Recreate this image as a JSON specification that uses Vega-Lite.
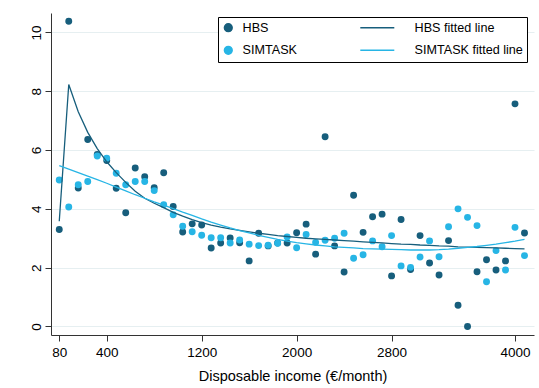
{
  "$schema": "https://vega.github.io/schema/vega-lite/v6.json",
  "width": 483,
  "height": 322,
  "autosize": "none",
  "padding": {"left": 51, "top": 13, "right": 5, "bottom": 53},
  "background": "white",
  "config": {"view": {"stroke": null}, "font": "Liberation Sans"},
  "data": {"values": [
    {"i":0,"v":3.30,"s":"HBS"},{"i":1,"v":10.38,"s":"HBS"},{"i":2,"v":4.71,"s":"HBS"},{"i":3,"v":6.36,"s":"HBS"},{"i":4,"v":5.85,"s":"HBS"},
    {"i":5,"v":5.64,"s":"HBS"},{"i":6,"v":4.70,"s":"HBS"},{"i":7,"v":3.87,"s":"HBS"},{"i":8,"v":5.39,"s":"HBS"},{"i":9,"v":5.09,"s":"HBS"},
    {"i":10,"v":4.72,"s":"HBS"},{"i":11,"v":5.23,"s":"HBS"},{"i":12,"v":4.08,"s":"HBS"},{"i":13,"v":3.21,"s":"HBS"},{"i":14,"v":3.49,"s":"HBS"},
    {"i":15,"v":3.45,"s":"HBS"},{"i":16,"v":2.67,"s":"HBS"},{"i":17,"v":2.84,"s":"HBS"},{"i":18,"v":3.01,"s":"HBS"},{"i":19,"v":2.85,"s":"HBS"},
    {"i":20,"v":2.23,"s":"HBS"},{"i":21,"v":3.17,"s":"HBS"},{"i":22,"v":2.74,"s":"HBS"},{"i":23,"v":2.84,"s":"HBS"},{"i":24,"v":2.84,"s":"HBS"},
    {"i":25,"v":3.19,"s":"HBS"},{"i":26,"v":3.48,"s":"HBS"},{"i":27,"v":2.46,"s":"HBS"},{"i":28,"v":6.45,"s":"HBS"},{"i":29,"v":2.74,"s":"HBS"},
    {"i":30,"v":1.85,"s":"HBS"},{"i":31,"v":4.46,"s":"HBS"},{"i":32,"v":3.20,"s":"HBS"},{"i":33,"v":3.73,"s":"HBS"},{"i":34,"v":3.82,"s":"HBS"},
    {"i":35,"v":1.72,"s":"HBS"},{"i":36,"v":3.64,"s":"HBS"},{"i":37,"v":1.94,"s":"HBS"},{"i":38,"v":3.09,"s":"HBS"},{"i":39,"v":2.16,"s":"HBS"},
    {"i":40,"v":1.75,"s":"HBS"},{"i":41,"v":2.92,"s":"HBS"},{"i":42,"v":0.72,"s":"HBS"},{"i":43,"v":0.00,"s":"HBS"},{"i":44,"v":1.86,"s":"HBS"},
    {"i":45,"v":2.27,"s":"HBS"},{"i":46,"v":1.92,"s":"HBS"},{"i":47,"v":2.23,"s":"HBS"},{"i":48,"v":7.57,"s":"HBS"},{"i":49,"v":3.18,"s":"HBS"},
    {"i":0,"v":4.98,"s":"SIMTASK"},{"i":1,"v":4.06,"s":"SIMTASK"},{"i":2,"v":4.82,"s":"SIMTASK"},{"i":3,"v":4.93,"s":"SIMTASK"},{"i":4,"v":5.80,"s":"SIMTASK"},
    {"i":5,"v":5.72,"s":"SIMTASK"},{"i":6,"v":5.21,"s":"SIMTASK"},{"i":7,"v":4.82,"s":"SIMTASK"},{"i":8,"v":4.93,"s":"SIMTASK"},{"i":9,"v":4.93,"s":"SIMTASK"},
    {"i":10,"v":4.62,"s":"SIMTASK"},{"i":11,"v":4.14,"s":"SIMTASK"},{"i":12,"v":3.80,"s":"SIMTASK"},{"i":13,"v":3.41,"s":"SIMTASK"},{"i":14,"v":3.22,"s":"SIMTASK"},
    {"i":15,"v":3.10,"s":"SIMTASK"},{"i":16,"v":3.02,"s":"SIMTASK"},{"i":17,"v":3.02,"s":"SIMTASK"},{"i":18,"v":2.84,"s":"SIMTASK"},{"i":19,"v":2.94,"s":"SIMTASK"},
    {"i":20,"v":2.80,"s":"SIMTASK"},{"i":21,"v":2.75,"s":"SIMTASK"},{"i":22,"v":2.76,"s":"SIMTASK"},{"i":23,"v":2.83,"s":"SIMTASK"},{"i":24,"v":3.04,"s":"SIMTASK"},
    {"i":25,"v":2.68,"s":"SIMTASK"},{"i":26,"v":3.13,"s":"SIMTASK"},{"i":27,"v":2.86,"s":"SIMTASK"},{"i":28,"v":2.93,"s":"SIMTASK"},{"i":29,"v":3.00,"s":"SIMTASK"},
    {"i":30,"v":3.17,"s":"SIMTASK"},{"i":31,"v":2.32,"s":"SIMTASK"},{"i":32,"v":2.44,"s":"SIMTASK"},{"i":33,"v":2.91,"s":"SIMTASK"},{"i":34,"v":2.71,"s":"SIMTASK"},
    {"i":35,"v":3.09,"s":"SIMTASK"},{"i":36,"v":2.06,"s":"SIMTASK"},{"i":37,"v":2.01,"s":"SIMTASK"},{"i":38,"v":2.36,"s":"SIMTASK"},{"i":39,"v":2.91,"s":"SIMTASK"},
    {"i":40,"v":2.37,"s":"SIMTASK"},{"i":41,"v":3.39,"s":"SIMTASK"},{"i":42,"v":4.00,"s":"SIMTASK"},{"i":43,"v":3.71,"s":"SIMTASK"},{"i":44,"v":3.43,"s":"SIMTASK"},
    {"i":45,"v":1.52,"s":"SIMTASK"},{"i":46,"v":2.58,"s":"SIMTASK"},{"i":47,"v":1.92,"s":"SIMTASK"},{"i":48,"v":3.37,"s":"SIMTASK"},{"i":49,"v":2.41,"s":"SIMTASK"},
    {"i":0,"v":3.58,"s":"HBS fitted line"},{"i":1,"v":8.23,"s":"HBS fitted line"},{"i":2,"v":7.30,"s":"HBS fitted line"},{"i":3,"v":6.60,"s":"HBS fitted line"},{"i":4,"v":6.05,"s":"HBS fitted line"},
    {"i":5,"v":5.60,"s":"HBS fitted line"},{"i":6,"v":5.23,"s":"HBS fitted line"},{"i":7,"v":4.90,"s":"HBS fitted line"},{"i":8,"v":4.60,"s":"HBS fitted line"},{"i":9,"v":4.36,"s":"HBS fitted line"},
    {"i":10,"v":4.19,"s":"HBS fitted line"},{"i":11,"v":4.04,"s":"HBS fitted line"},{"i":12,"v":3.88,"s":"HBS fitted line"},{"i":13,"v":3.75,"s":"HBS fitted line"},{"i":14,"v":3.63,"s":"HBS fitted line"},
    {"i":15,"v":3.53,"s":"HBS fitted line"},{"i":16,"v":3.45,"s":"HBS fitted line"},{"i":17,"v":3.38,"s":"HBS fitted line"},{"i":18,"v":3.32,"s":"HBS fitted line"},{"i":19,"v":3.27,"s":"HBS fitted line"},
    {"i":20,"v":3.22,"s":"HBS fitted line"},{"i":21,"v":3.17,"s":"HBS fitted line"},{"i":22,"v":3.13,"s":"HBS fitted line"},{"i":23,"v":3.09,"s":"HBS fitted line"},{"i":24,"v":3.06,"s":"HBS fitted line"},
    {"i":25,"v":3.03,"s":"HBS fitted line"},{"i":26,"v":3.00,"s":"HBS fitted line"},{"i":27,"v":2.98,"s":"HBS fitted line"},{"i":28,"v":2.96,"s":"HBS fitted line"},{"i":29,"v":2.94,"s":"HBS fitted line"},
    {"i":30,"v":2.92,"s":"HBS fitted line"},{"i":31,"v":2.90,"s":"HBS fitted line"},{"i":32,"v":2.88,"s":"HBS fitted line"},{"i":33,"v":2.86,"s":"HBS fitted line"},{"i":34,"v":2.84,"s":"HBS fitted line"},
    {"i":35,"v":2.82,"s":"HBS fitted line"},{"i":36,"v":2.80,"s":"HBS fitted line"},{"i":37,"v":2.79,"s":"HBS fitted line"},{"i":38,"v":2.77,"s":"HBS fitted line"},{"i":39,"v":2.76,"s":"HBS fitted line"},
    {"i":40,"v":2.74,"s":"HBS fitted line"},{"i":41,"v":2.73,"s":"HBS fitted line"},{"i":42,"v":2.71,"s":"HBS fitted line"},{"i":43,"v":2.70,"s":"HBS fitted line"},{"i":44,"v":2.69,"s":"HBS fitted line"},
    {"i":45,"v":2.68,"s":"HBS fitted line"},{"i":46,"v":2.67,"s":"HBS fitted line"},{"i":47,"v":2.66,"s":"HBS fitted line"},{"i":48,"v":2.65,"s":"HBS fitted line"},{"i":49,"v":2.64,"s":"HBS fitted line"},
    {"i":0,"v":5.47,"s":"SIMTASK fitted line"},{"i":1,"v":5.35,"s":"SIMTASK fitted line"},{"i":2,"v":5.23,"s":"SIMTASK fitted line"},{"i":3,"v":5.11,"s":"SIMTASK fitted line"},{"i":4,"v":4.99,"s":"SIMTASK fitted line"},
    {"i":5,"v":4.87,"s":"SIMTASK fitted line"},{"i":6,"v":4.74,"s":"SIMTASK fitted line"},{"i":7,"v":4.61,"s":"SIMTASK fitted line"},{"i":8,"v":4.48,"s":"SIMTASK fitted line"},{"i":9,"v":4.36,"s":"SIMTASK fitted line"},
    {"i":10,"v":4.24,"s":"SIMTASK fitted line"},{"i":11,"v":4.13,"s":"SIMTASK fitted line"},{"i":12,"v":4.01,"s":"SIMTASK fitted line"},{"i":13,"v":3.89,"s":"SIMTASK fitted line"},{"i":14,"v":3.78,"s":"SIMTASK fitted line"},
    {"i":15,"v":3.66,"s":"SIMTASK fitted line"},{"i":16,"v":3.55,"s":"SIMTASK fitted line"},{"i":17,"v":3.45,"s":"SIMTASK fitted line"},{"i":18,"v":3.35,"s":"SIMTASK fitted line"},{"i":19,"v":3.26,"s":"SIMTASK fitted line"},
    {"i":20,"v":3.18,"s":"SIMTASK fitted line"},{"i":21,"v":3.10,"s":"SIMTASK fitted line"},{"i":22,"v":3.03,"s":"SIMTASK fitted line"},{"i":23,"v":2.96,"s":"SIMTASK fitted line"},{"i":24,"v":2.90,"s":"SIMTASK fitted line"},
    {"i":25,"v":2.85,"s":"SIMTASK fitted line"},{"i":26,"v":2.81,"s":"SIMTASK fitted line"},{"i":27,"v":2.77,"s":"SIMTASK fitted line"},{"i":28,"v":2.74,"s":"SIMTASK fitted line"},{"i":29,"v":2.71,"s":"SIMTASK fitted line"},
    {"i":30,"v":2.69,"s":"SIMTASK fitted line"},{"i":31,"v":2.67,"s":"SIMTASK fitted line"},{"i":32,"v":2.65,"s":"SIMTASK fitted line"},{"i":33,"v":2.64,"s":"SIMTASK fitted line"},{"i":34,"v":2.63,"s":"SIMTASK fitted line"},
    {"i":35,"v":2.62,"s":"SIMTASK fitted line"},{"i":36,"v":2.61,"s":"SIMTASK fitted line"},{"i":37,"v":2.60,"s":"SIMTASK fitted line"},{"i":38,"v":2.60,"s":"SIMTASK fitted line"},{"i":39,"v":2.60,"s":"SIMTASK fitted line"},
    {"i":40,"v":2.61,"s":"SIMTASK fitted line"},{"i":41,"v":2.63,"s":"SIMTASK fitted line"},{"i":42,"v":2.66,"s":"SIMTASK fitted line"},{"i":43,"v":2.69,"s":"SIMTASK fitted line"},{"i":44,"v":2.72,"s":"SIMTASK fitted line"},
    {"i":45,"v":2.76,"s":"SIMTASK fitted line"},{"i":46,"v":2.80,"s":"SIMTASK fitted line"},{"i":47,"v":2.85,"s":"SIMTASK fitted line"},{"i":48,"v":2.90,"s":"SIMTASK fitted line"},{"i":49,"v":2.96,"s":"SIMTASK fitted line"}
  ]},
  "encoding": {
    "x": {"field": "i", "type": "quantitative",
      "scale": {"domain": [-0.87, 50], "nice": false, "zero": false},
      "axis": {"values": [0, 5, 15, 25, 35, 48],
        "labelExpr": "datum.value==0?'80':datum.value==5?'400':datum.value==15?'1200':datum.value==25?'2000':datum.value==35?'2800':'4000'",
        "title": "Disposable income (€/month)", "titleFontSize": 14.5, "titleFontWeight": "normal", "titleColor": "#000", "titlePadding": 11,
        "labelFontSize": 13.5, "labelColor": "#000", "labelPadding": 4, "tickSize": 6, "tickColor": "#333", "domainColor": "#333",
        "grid": false, "labelFlush": false}},
    "y": {"field": "v", "type": "quantitative",
      "scale": {"domain": [-0.29, 10.66], "nice": false, "zero": false},
      "axis": {"values": [0, 2, 4, 6, 8, 10], "title": null, "labelAngle": 270, "labelAlign": "center", "labelBaseline": "bottom",
        "labelFontSize": 13.5, "labelColor": "#000", "labelPadding": 2, "tickSize": 6, "tickColor": "#333", "domainColor": "#333",
        "grid": true, "gridColor": "#e6eff1", "gridWidth": 1.2}},
    "color": {"field": "s", "type": "nominal",
      "scale": {"domain": ["HBS", "HBS fitted line", "SIMTASK", "SIMTASK fitted line"], "range": ["#175e7c", "#175e7c", "#27b5e5", "#27b5e5"]},
      "legend": {"title": null, "orient": "none", "legendX": 167, "legendY": 4, "columns": 2, "direction": "horizontal",
        "strokeColor": "#000", "fillColor": "#fff", "padding": 4, "columnPadding": 60, "rowPadding": 8, "labelOffset": 8,
        "labelFontSize": 12.6, "labelColor": "#000", "labelLimit": 300,
        "encode": {
          "symbols": {"update": {
            "shape": {"signal": "test(/fitted/, datum.value) ? 'stroke' : 'circle'"},
            "size": {"signal": "test(/fitted/, datum.value) ? 1156 : 60"},
            "dx": {"signal": "test(/fitted/, datum.value) ? 13 : 0"},
            "fill": {"signal": "test(/fitted/, datum.value) ? 'transparent' : scale('color', datum.value)"},
            "stroke": {"signal": "test(/fitted/, datum.value) ? scale('color', datum.value) : 'transparent'"},
            "strokeWidth": {"value": 1.5},
            "opacity": {"value": 1}}},
          "labels": {"update": {
            "dx": {"signal": "test(/fitted/, datum.value) ? 23 : 0"}}}}}}
  },
  "layer": [
    {"transform": [{"filter": "indexof(datum.s, 'fitted') < 0"}],
     "mark": {"type": "point", "filled": true, "size": 48, "opacity": 1}},
    {"transform": [{"filter": "indexof(datum.s, 'fitted') >= 0"}],
     "mark": {"type": "line", "strokeWidth": 1.3}}
  ]
}
